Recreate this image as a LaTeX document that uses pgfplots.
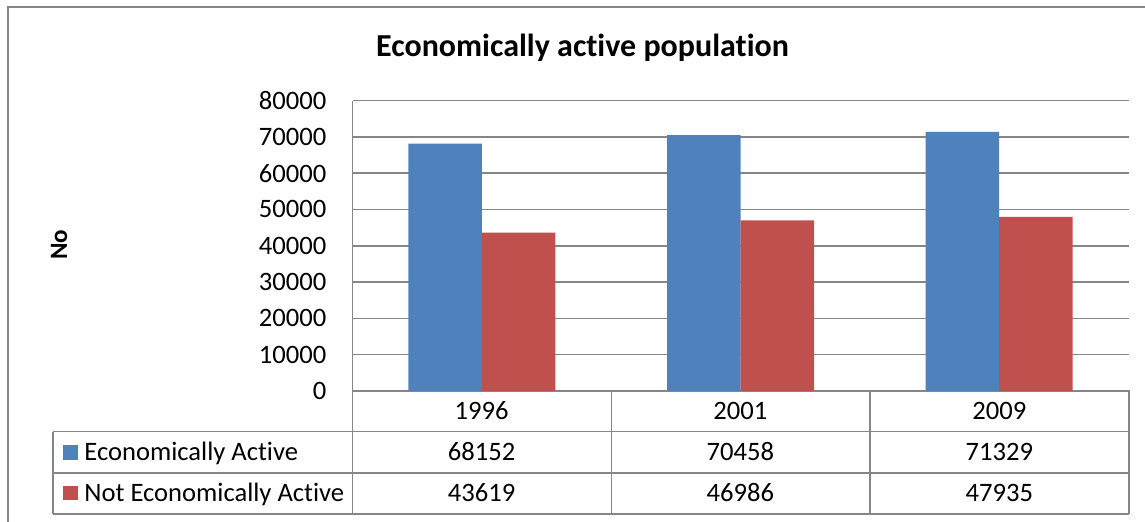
\documentclass[border=0pt]{standalone}
\usepackage{fontspec}
\setmainfont{Carlito}[Ligatures=CommonOff]
\usepackage{pgfplots}
\usepackage{pgfplotstable}
\pgfplotsset{compat=1.18}

\definecolor{exblue}{RGB}{79,129,189}
\definecolor{exred}{RGB}{192,80,77}
\definecolor{rulegray}{RGB}{134,134,134}

% Population by economic activity
\pgfplotstableread{
year ea    nea
1996 68152 43619
2001 70458 46986
2009 71329 47935
}\datatable

\begin{document}
\begin{tikzpicture}
\fontsize{13.3pt}{16pt}\selectfont
% canvas in half-point units, y measured downward from the top edge
\begin{scope}[x=0.5pt,y=-0.5pt,yshift=261pt]
  \useasboundingbox (0,0) rectangle (1145,522);
  % chart frame
  \draw[rulegray,line width=0.8pt] (8,522) -- (8,7) -- (1145,7);
  % title and value axis label
  \node[font=\fontsize{16pt}{19pt}\selectfont\bfseries] at (582.5,48) {Economically active population};
  \node[font=\fontsize{12.5pt}{15pt}\selectfont\bfseries,rotate=90] at (59,245) {No};
\end{scope}

\begin{axis}[
  at={(176.25pt,65.5pt)}, anchor=south west,
  width=388pt, height=145.25pt, scale only axis,
  xmin=-0.5, xmax=2.5, ymin=0, ymax=80000,
  ytick={0,10000,...,80000}, xtick=\empty,
  scaled y ticks=false,
  axis lines*=left,
  axis line style={rulegray,line width=0.8pt},
  ymajorgrids, grid style={rulegray,line width=0.8pt},
  major tick length=0pt,
  /pgf/number format/assume math mode=true,
  /pgf/number format/fixed,
  /pgf/number format/precision=0,
  /pgf/number format/1000 sep={},
  yticklabel style={anchor=east,inner sep=0pt,xshift=-12.9pt,
    font=\fontsize{13.3pt}{16pt}\selectfont},
  ybar=0pt, bar width=36.75pt,
  clip=false,
]
\addplot[fill=exblue,draw=none] table[x expr=\coordindex,y=ea]{\datatable};
\addplot[fill=exred,draw=none] table[x expr=\coordindex,y=nea]{\datatable};
\end{axis}

\begin{scope}[x=0.5pt,y=-0.5pt,yshift=261pt]
  % data table grid
  \begin{scope}[rulegray,line width=0.8pt]
    \draw (352.5,390.5) -- (352.5,514);
    \draw (611.3,390.5) -- (611.3,514);
    \draw (870,390.5) -- (870,514);
    \draw (1128.7,390.5) -- (1128.7,514);
    \draw (53,431.7) -- (53,514);
    \draw (53,431.7) -- (1128.7,431.7);
    \draw (53,473) -- (1128.7,473);
    \draw (53,514) -- (1128.7,514);
  \end{scope}
  % series keys
  \fill[exblue] (63,445.5) rectangle (78,460);
  \fill[exred] (63,486) rectangle (78,500.5);
  \node[anchor=base west,inner sep=0pt] at (84,461) {Economically Active};
  \node[anchor=base west,inner sep=0pt] at (84,502) {Not Economically Active};
  % table values
  \foreach \r/\xc in {0/481.6,1/740.3,2/999.4}{
    \pgfplotstablegetelem{\r}{year}\of\datatable
    \node[anchor=base,inner sep=0pt] at (\xc,420) {\pgfplotsretval};
    \pgfplotstablegetelem{\r}{ea}\of\datatable
    \node[anchor=base,inner sep=0pt] at (\xc,461) {\pgfplotsretval};
    \pgfplotstablegetelem{\r}{nea}\of\datatable
    \node[anchor=base,inner sep=0pt] at (\xc,502) {\pgfplotsretval};
  }
\end{scope}
\end{tikzpicture}
\end{document}
